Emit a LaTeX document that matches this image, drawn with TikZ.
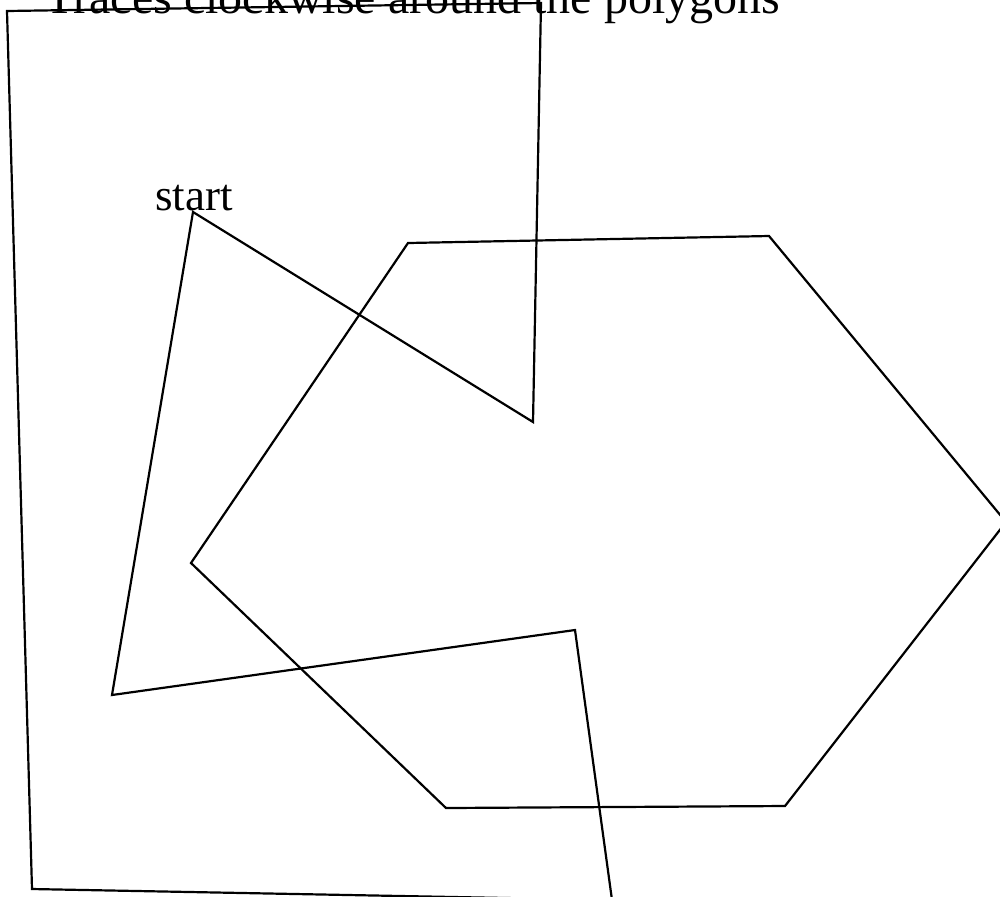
\documentclass[tikz,border=0pt]{standalone}
\usepackage{fontspec}
\setmainfont{Liberation Serif}
\usepackage{tikz}
\usetikzlibrary{positioning}
\tikzset{
    contorno/.style={draw, line width=1.1pt, line join=miter},
    titulo/.style={anchor=base, inner sep=0pt, font=\fontsize{24}{28}\selectfont},
    rotulo/.style={anchor=base, inner sep=0pt, font=\fontsize{22.5}{27}\selectfont}
}

\begin{document}
\begin{tikzpicture}[x=0.5pt, y=-0.5pt]
        \useasboundingbox (0,0) rectangle (1000,896);
        \clip (0,0) rectangle (1000,896);

        % poligono tracado
        \coordinate (inicio) at (193,212);
        \coordinate (p2) at (533,422);
        \coordinate (p3) at (541,3);
        \coordinate (p4) at (7,11);
        \coordinate (p5) at (32,889);
        \coordinate (p6) at (612,900);
        \coordinate (p7) at (575,630);
        \coordinate (p8) at (112,695);

        % hexagono
        \coordinate (h1) at (408,243);
        \coordinate (h2) at (769,236);
        \coordinate (h3) at (1006,522);
        \coordinate (h4) at (785,806);
        \coordinate (h5) at (446,808);
        \coordinate (h6) at (191,563);

        \draw[contorno] (inicio) -- (p2) -- (p3) -- (p4) -- (p5) -- (p6)
            -- (p7) -- (p8) -- cycle;
        \draw[contorno] (h1) -- (h2) -- (h3) -- (h4) -- (h5) -- (h6) -- cycle;

        \node[titulo] (title) at (413,13) {Traces clockwise around the polygons};
        \node[rotulo] (startlabel) at (194,210) {start};
    \end{tikzpicture}
\end{document}
